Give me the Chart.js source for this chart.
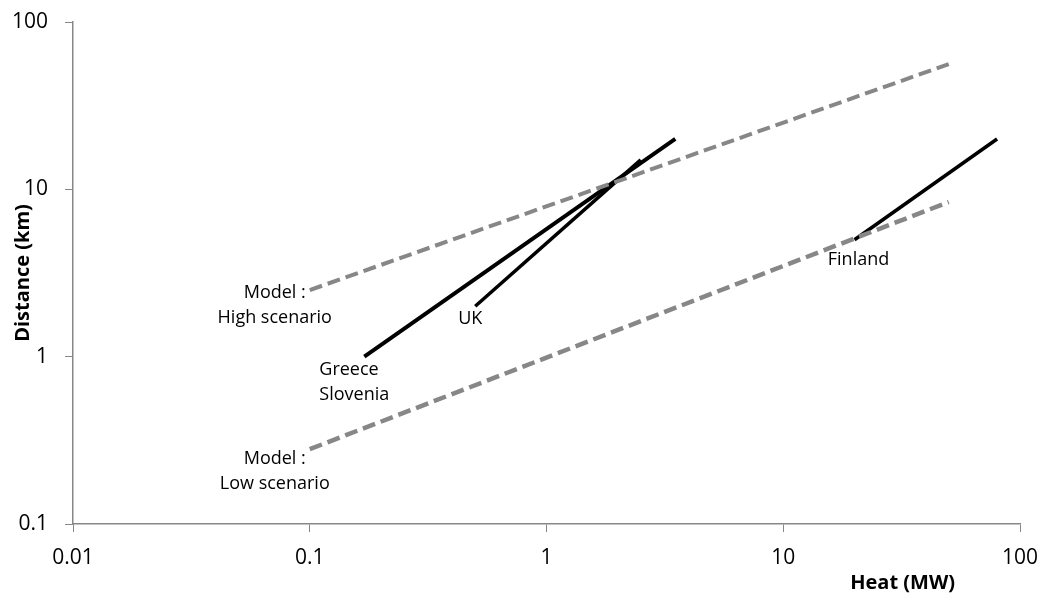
<!DOCTYPE html>
<html>
<head>
<meta charset="utf-8">
<title>Heat vs distance</title>
<script src="https://cdn.jsdelivr.net/npm/chart.js@4/dist/chart.umd.min.js"></script>
<style>
  html, body { margin: 0; padding: 0; background: #fff; }
  #wrap { width: 1042px; height: 599px; position: relative; }
</style>
</head>
<body>
<div id="wrap"><canvas id="c"></canvas></div>
<script>
// Heat (MW) and distance (km) end points of each line
const highHeat = [0.1, 50];
const highDist = [2.5, 56];
const lowHeat = [0.1, 50];
const lowDist = [0.28, 8.4];
const greeceHeat = [0.17, 3.5];
const greeceDist = [1, 20];
const ukHeat = [0.5, 2.5];
const ukDist = [2, 15];
const finlandHeat = [20, 80];
const finlandDist = [5, 20];

// Decade tick labels on both log axes
const xTicks = [0.01, 0.1, 1, 10, 100];
const yTicks = [0.1, 1, 10, 100];

const pts = (xs, ys) => xs.map((x, i) => ({ x: x, y: ys[i] }));

const GREY = '#878787';
const FONT = "'Open Sans', 'Liberation Sans', sans-serif";

// Text placed next to the start of each line: [datasetIndex, pointIndex, dx, dy, align, lines]
const notes = [
  [0, 0, -35, 3, 'center', ['Model :', 'High scenario']],
  [1, 0, -35, 10, 'center', ['Model :', 'Low scenario']],
  [2, 0, -45, 13, 'left', ['Greece', 'Slovenia']],
  [3, 0, -5, 13, 'center', ['UK']],
  [4, 0, 4, 20, 'center', ['Finland']]
];

const notePlugin = {
  id: 'notes',
  afterDraw(chart) {
    const ctx = chart.ctx;
    const xs = chart.scales.x, ys = chart.scales.y;
    ctx.save();
    ctx.fillStyle = '#000';
    ctx.font = '18px ' + FONT;
    ctx.textBaseline = 'middle';
    notes.forEach(([di, pi, dx, dy, align, lines]) => {
      const p = chart.data.datasets[di].data[pi];
      const px = xs.getPixelForValue(p.x) + dx;
      const py = ys.getPixelForValue(p.y) + dy;
      ctx.textAlign = align;
      lines.forEach((t, k) => ctx.fillText(t, px, py + k * 25));
    });
    // axis titles
    ctx.font = 'bold 20px ' + FONT;
    ctx.textAlign = 'right';
    ctx.fillText('Heat (MW)', 955, 583);
    ctx.translate(23, (chart.chartArea.top + chart.chartArea.bottom) / 2);
    ctx.rotate(-Math.PI / 2);
    ctx.textAlign = 'center';
    ctx.fillText('Distance (km)', 0, 0);
    ctx.restore();
  }
};

const dashed = (data, w) => ({
  data: data, showLine: true, borderColor: GREY, borderWidth: w,
  borderDash: [13, 6], borderCapStyle: 'butt', pointRadius: 0, fill: false
});
const solid = (data, w) => ({
  data: data, showLine: true, borderColor: '#000', borderWidth: w,
  borderCapStyle: 'butt', pointRadius: 0, fill: false
});

new Chart(document.getElementById('c'), {
  type: 'scatter',
  data: {
    datasets: [
      dashed(pts(highHeat, highDist), 4),
      dashed(pts(lowHeat, lowDist), 4.5),
      solid(pts(greeceHeat, greeceDist), 4),
      solid(pts(ukHeat, ukDist), 3.5),
      solid(pts(finlandHeat, finlandDist), 3.5)
    ]
  },
  options: {
    responsive: true,
    maintainAspectRatio: false,
    animation: false,
    layout: { padding: { top: 22, right: 22, left: 0, bottom: 0 } },
    plugins: { legend: { display: false }, tooltip: { enabled: false } },
    scales: {
      x: {
        type: 'logarithmic', min: 0.01, max: 100,
        afterBuildTicks: s => { s.ticks = xTicks.map(v => ({ value: v })); },
        afterFit: s => { s.height = 75; s.paddingLeft = 0; s.paddingRight = 0; },
        ticks: { color: '#000', font: { family: FONT, size: 21 }, padding: 13,
                 maxRotation: 0, autoSkip: false, callback: v => String(v) },
        grid: { display: true, drawOnChartArea: false, drawTicks: true, tickLength: 8, color: GREY, lineWidth: 1 },
        border: { display: true, color: GREY, width: 1.5 }
      },
      y: {
        type: 'logarithmic', min: 0.1, max: 100,
        afterBuildTicks: s => { s.ticks = yTicks.map(v => ({ value: v })); },
        afterFit: s => { s.width = 73; s.paddingTop = 0; s.paddingBottom = 0; },
        ticks: { color: '#000', font: { family: FONT, size: 21 }, padding: 17,
                 autoSkip: false, callback: v => String(v) },
        grid: { display: true, drawOnChartArea: false, drawTicks: true, tickLength: 8, color: GREY, lineWidth: 1 },
        border: { display: true, color: GREY, width: 1.5 }
      }
    }
  },
  plugins: [notePlugin]
});
</script>
</body>
</html>
